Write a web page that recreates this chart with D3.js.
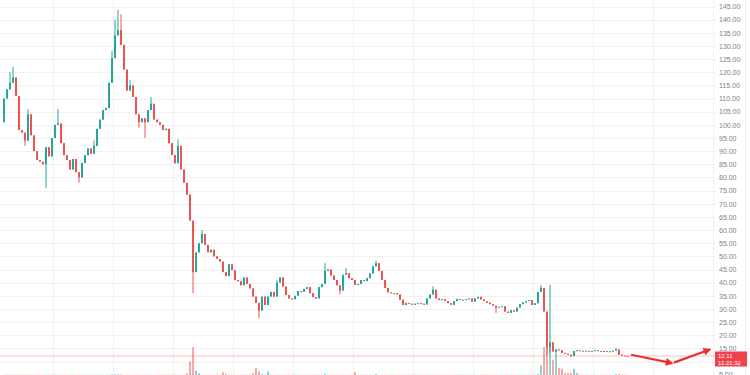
<!DOCTYPE html>
<html>
<head>
<meta charset="utf-8">
<script src="https://cdn.jsdelivr.net/npm/d3@7"></script>
<style>
html, body { margin: 0; padding: 0; background: #fff; }
svg { display: block; }
</style>
</head>
<body>
<div id="chart"></div>
<script>
// Datos
const firstOpen = 101;
const closes = [
    110, 113.5, 116, 118, 111, 98, 97, 94, 104, 96,
    90, 86.6, 86, 85, 91.5, 88, 95, 100, 100.5, 93,
    88.5, 86.6, 83, 87, 82, 80, 85.5, 88.5, 91, 89,
    92, 98.5, 102, 105.6, 106.4, 116, 125.4, 134, 136, 130.4,
    121, 113, 115, 110.6, 104, 101, 102.5, 101, 105.6, 108,
    102, 101, 100, 98, 98.5, 93, 88.5, 85.4, 92, 83,
    78, 73.5, 63.6, 44, 51.5, 55, 58.5, 54.3, 51.5, 52.5,
    50, 49, 48, 44, 42.5, 47, 44.8, 41, 40.5, 39,
    42, 39.5, 37.8, 34.7, 32.3, 29.4, 34.7, 31.5, 34.7, 36.5,
    34.7, 40, 42, 38.5, 35.3, 34, 33.7, 35, 36.8, 36.5,
    37.6, 38.3, 36, 34.5, 34, 38.3, 39.5, 44.5, 45, 42.7,
    41, 39, 37, 43, 43.6, 41.7, 41, 39.2, 39.5, 41,
    40.6, 41.7, 43.5, 46.2, 47.4, 44.5, 41, 38, 36.3, 36,
    36, 35.5, 33.5, 31.5, 32.3, 32, 31.6, 32, 32.2, 32,
    31.7, 34, 35.5, 37.3, 34, 33.4, 33.7, 33, 32.2, 31.6,
    33, 33.8, 33.4, 33.5, 33.8, 34, 32.8, 34, 34.6, 33.6,
    33, 32.4, 31.8, 31.2, 30.4, 30.8, 31, 29, 28.5, 29.5,
    29, 30.5, 31.8, 32.5, 33, 33.4, 31.5, 32.2, 36.5, 38,
    29, 15.6, 17.3, 13.8, 14.6, 14.3, 13.3, 13, 12.6, 12.1,
    14, 14.3, 14.1, 14, 14.1, 13.9, 14, 14.3, 14, 13.8,
    14, 13.7, 13.9, 14.1, 14.6, 12.6, 12.3, 12.2, 12.11
];
// mechas notables [indice, valor]
const wickHighs = [
    [2, 120], [3, 122], [8, 106], [18, 106], [30, 94], [36, 128], [37, 140],
    [38, 143.7], [39, 142], [42, 117], [49, 110.6], [58, 94.5], [66, 60],
    [91, 41], [107, 47.4], [114, 45.6], [124, 48.3], [143, 38.6], [179, 39], [204, 15.2]
];
const wickLows = [
    [7, 92], [14, 76], [25, 78], [45, 99], [47, 95], [63, 36], [85, 26.6],
    [112, 35.5], [164, 28.5], [181, 12.5], [182, 13], [189, 11.8]
];
const volumes = [
    0.3, 0.3, 0.3, 0.3, 0.3, 0.3, 0.3, 0.3, 0.3, 0.3,
    0.3, 0.3, 0.3, 0.3, 0.3, 0.3, 0.3, 0.3, 0.3, 0.3,
    0.3, 0.3, 0.3, 0.3, 0.3, 0.3, 0.3, 0.3, 0.3, 0.3,
    0.3, 0.3, 0.3, 0.3, 0.3, 0.3, 0.6, 0.6, 0.6, 0.6,
    0.3, 0.3, 0.3, 0.3, 0.3, 0.3, 0.3, 0.3, 0.3, 0.3,
    0.3, 0.3, 0.3, 0.3, 0.3, 0.3, 0.3, 0.3, 0.3, 0.3,
    0.3, 2, 15, 31, 5, 2, 0.3, 0.3, 0.3, 0.3,
    0.3, 0.3, 0.3, 3, 1, 0.3, 0.3, 0.3, 0.3, 0.3,
    0.3, 0.3, 0.3, 2, 8, 4, 1, 0.3, 4, 0.3,
    0.3, 0.3, 0.3, 0.3, 0.3, 0.3, 0.3, 0.3, 0.3, 0.3,
    0.3, 0.3, 0.3, 0.3, 0.3, 0.3, 0.3, 1, 0.3, 0.3,
    0.3, 0.3, 0.3, 0.3, 0.3, 0.3, 0.3, 3, 0.3, 0.3,
    0.3, 0.3, 0.3, 0.3, 1, 0.3, 0.3, 0.3, 0.3, 0.3,
    0.3, 0.3, 0.3, 0.3, 0.3, 0.3, 0.3, 0.3, 0.3, 0.3,
    0.3, 0.3, 0.3, 0.3, 0.3, 0.3, 0.3, 0.3, 0.3, 0.3,
    0.3, 0.3, 0.3, 0.3, 0.3, 0.3, 0.3, 0.3, 0.3, 0.3,
    0.3, 0.3, 0.3, 0.3, 0.3, 0.3, 0.3, 0.3, 0.3, 0.3,
    0.3, 0.3, 0.3, 0.3, 0.3, 0.3, 0.3, 0.3, 1, 11,
    31, 39, 100, 17, 28, 8, 7, 2, 2, 2,
    7, 2, 0.3, 0.3, 0.3, 0.3, 0.3, 0.3, 0.3, 0.3,
    0.3, 0.3, 0.3, 0.3, 1, 1, 0.3, 0.3, 0.3
];
const priceTicks = [5, 10, 15, 20, 25, 30, 35, 40, 45, 50, 55, 60, 65, 70, 75,
    80, 85, 90, 95, 100, 105, 110, 115, 120, 125, 130, 135, 140, 145];
const gridCandles = [16.3, 36.3, 56.3, 76.3, 96.3, 116.3, 136.3, 156.3, 176.3, 196.3, 216.3, 236.3];
const lastPrice = 12.11;
const lastTime = "11:21:32";
// flechas anotadas [indice, precio]
const arrowA = [[209, 12.6], [222.7, 9.4]];
const arrowB = [[223.3, 9.6], [235.3, 14.6]];

// Colores
const UP = "#26a69a";
const DOWN = "#ef5350";
const UP_VOL = "rgba(38,166,154,0.5)";
const DOWN_VOL = "rgba(239,83,80,0.5)";
const ARROW = "#e8332a";

// Dimensiones
const width = 750;
const height = 375;
const plotRight = 716;

// tabla de velas
const highMap = new Map(wickHighs);
const lowMap = new Map(wickLows);
const candles = closes.map((c, i) => {
    const o = i === 0 ? firstOpen : closes[i - 1];
    return {
        i: i,
        open: o,
        close: c,
        high: highMap.has(i) ? highMap.get(i) : Math.max(o, c),
        low: lowMap.has(i) ? lowMap.get(i) : Math.min(o, c),
        vol: volumes[i],
        up: c >= o
    };
});

const svg = d3.select("#chart")
    .append("svg")
    .attr("width", width)
    .attr("height", height);

// Escalas
const x = d3.scaleLinear().domain([0, closes.length - 1]).range([4, 628]);
const y = d3.scaleLinear().domain([5, 145]).range([374.7, 6.5]);
const yVol = d3.scaleLinear().domain([0, 100]).range([375, 285]);
const bodyW = 2;

// grilla
const grid = svg.append("g");
grid.selectAll("line.h")
    .data(priceTicks)
    .join("line")
    .attr("class", "h")
    .attr("x1", 0).attr("x2", plotRight)
    .attr("y1", d => Math.round(y(d)) + 0.5)
    .attr("y2", d => Math.round(y(d)) + 0.5)
    .attr("stroke", "#f1f1f3");
grid.selectAll("line.v")
    .data(gridCandles)
    .join("line")
    .attr("class", "v")
    .attr("x1", d => Math.round(x(d)) + 0.5)
    .attr("x2", d => Math.round(x(d)) + 0.5)
    .attr("y1", 0).attr("y2", height)
    .attr("stroke", "#f1f1f3");

// borde derecho
svg.append("line")
    .attr("x1", 745.5).attr("x2", 745.5)
    .attr("y1", 0).attr("y2", height)
    .attr("stroke", "#ededed");

// linea de precio actual
svg.append("line")
    .attr("x1", 0).attr("x2", plotRight)
    .attr("y1", y(lastPrice)).attr("y2", y(lastPrice))
    .attr("stroke", DOWN)
    .attr("stroke-opacity", 0.35)
    .attr("stroke-width", 1);

// volumen
svg.append("g")
    .selectAll("rect")
    .data(candles)
    .join("rect")
    .attr("x", d => x(d.i) - bodyW / 2)
    .attr("width", bodyW)
    .attr("y", d => yVol(d.vol))
    .attr("height", d => yVol(0) - yVol(d.vol))
    .attr("fill", d => d.up ? UP_VOL : DOWN_VOL);

// velas
const velas = svg.append("g");
velas.selectAll("line")
    .data(candles)
    .join("line")
    .attr("x1", d => x(d.i))
    .attr("x2", d => x(d.i))
    .attr("y1", d => y(d.high))
    .attr("y2", d => y(d.low))
    .attr("stroke", d => d.up ? UP : DOWN)
    .attr("stroke-width", 1);
velas.selectAll("rect")
    .data(candles)
    .join("rect")
    .attr("x", d => x(d.i) - bodyW / 2)
    .attr("width", bodyW)
    .attr("y", d => y(Math.max(d.open, d.close)))
    .attr("height", d => Math.max(1, Math.abs(y(d.open) - y(d.close))))
    .attr("fill", d => d.up ? UP : DOWN);

// eje Y (la etiqueta tapada por el precio actual no se dibuja)
const yl = y(lastPrice);
const visibleTicks = priceTicks.filter(t => Math.abs(y(t) - (yl + 3)) > 8);
const ejeY = d3.axisRight(y)
    .tickValues(visibleTicks)
    .tickFormat(d3.format(".2f"))
    .tickSize(0)
    .tickPadding(3);
svg.append("g")
    .attr("transform", `translate(${plotRight}, 0)`)
    .call(ejeY)
    .call(g => g.select(".domain").remove())
    .selectAll("text")
    .attr("fill", "#7c7f88")
    .style("font-family", "Liberation Sans, Arial, sans-serif")
    .style("font-size", "7px");

// etiqueta de precio
svg.append("rect")
    .attr("x", plotRight - 1)
    .attr("y", yl - 4.5)
    .attr("width", 32)
    .attr("height", 15)
    .attr("fill", "#f0414a");
svg.append("text")
    .attr("x", plotRight + 2)
    .attr("y", yl + 1.5)
    .attr("fill", "#fff")
    .style("font-family", "Liberation Sans, Arial, sans-serif")
    .style("font-size", "6px")
    .text(lastPrice.toFixed(2));
svg.append("text")
    .attr("x", plotRight + 2)
    .attr("y", yl + 8.5)
    .attr("fill", "#fff")
    .style("font-family", "Liberation Sans, Arial, sans-serif")
    .style("font-size", "6px")
    .text(lastTime);

// flechas
svg.append("defs")
    .append("marker")
    .attr("id", "punta")
    .attr("viewBox", "0 0 10 10")
    .attr("refX", 8)
    .attr("refY", 5)
    .attr("markerWidth", 4.5)
    .attr("markerHeight", 3.6)
    .attr("orient", "auto")
    .append("path")
    .attr("d", "M0,0 L10,5 L0,10 z")
    .attr("fill", ARROW);

const linea = d3.line().x(d => x(d[0])).y(d => y(d[1]));
[arrowA, arrowB].forEach(pts => {
    svg.append("path")
        .attr("d", linea(pts))
        .attr("fill", "none")
        .attr("stroke", ARROW)
        .attr("stroke-width", 2.2)
        .attr("marker-end", "url(#punta)");
});
</script>
</body>
</html>
